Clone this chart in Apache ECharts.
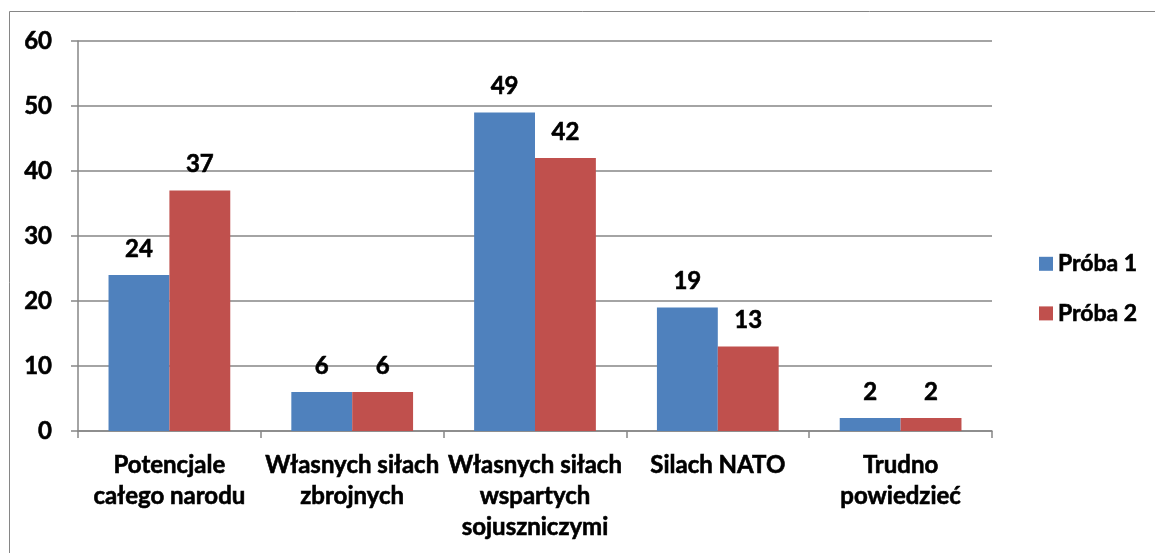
<!DOCTYPE html>
<html>
<head>
<meta charset="utf-8">
<script src="https://cdn.jsdelivr.net/npm/echarts@6/dist/echarts.min.js"></script>
<style>
  html, body { margin: 0; padding: 0; background: #fff; }
  #chart { width: 1155px; height: 553px; }
</style>
</head>
<body>
<div id="chart"></div>
<script>
// dane z wykresu
var categories = ['Potencjale\ncałego narodu', 'Własnych siłach\nzbrojnych', 'Własnych siłach\nwspartych\nsojuszniczymi', 'Silach NATO', 'Trudno\npowiedzieć'];
var proba1 = [24, 6, 49, 19, 2];
var proba2 = [37, 6, 42, 13, 2];
var seriesNames = ['Próba 1', 'Próba 2'];

var FONT = 'Lato';
var gray = '#868686';

// pogrubienie tekstu jak w oryginale
var txt = {
  fontFamily: FONT,
  fontWeight: 'bold',
  color: '#000',
  textBorderColor: '#000',
  textBorderWidth: 0.6
};

var labelStyle = Object.assign({
  show: true,
  position: 'top',
  distance: 14,
  fontSize: 24
}, txt);

var chart = echarts.init(document.getElementById('chart'));
chart.setOption({
  animation: false,
  color: ['#4F81BD', '#C0504D'],
  graphic: [{
    type: 'rect',
    shape: { x: 9.5, y: 11.5, width: 1300, height: 700 },
    style: { fill: 'none', stroke: gray, lineWidth: 1 },
    silent: true
  }],
  grid: { left: 78, right: 163, top: 41, bottom: 122 },
  legend: {
    orient: 'vertical',
    left: 1034,
    top: 247,
    itemWidth: 14,
    itemHeight: 14,
    itemGap: 26,
    icon: 'rect',
    textStyle: Object.assign({ fontSize: 23 }, txt),
    data: seriesNames
  },
  xAxis: {
    type: 'category',
    data: categories,
    axisLine: { lineStyle: { color: gray, width: 1.5 } },
    axisTick: { show: true, length: 7, alignWithLabel: false, lineStyle: { color: gray, width: 1.5 } },
    axisLabel: Object.assign({
      interval: 0,
      margin: 19,
      fontSize: 24,
      lineHeight: 31
    }, txt)
  },
  yAxis: {
    type: 'value',
    min: 0,
    max: 60,
    interval: 10,
    axisLine: { show: true, lineStyle: { color: gray, width: 1.5 } },
    axisTick: { show: true, length: 7, lineStyle: { color: gray, width: 1.5 } },
    splitLine: { lineStyle: { color: gray, width: 1.5 } },
    axisLabel: Object.assign({
      margin: 26,
      fontSize: 24
    }, txt)
  },
  series: [
    { name: seriesNames[0], type: 'bar', data: proba1, barWidth: '33.3%', barGap: '0%', label: labelStyle },
    { name: seriesNames[1], type: 'bar', data: proba2, barWidth: '33.3%', barGap: '0%', label: labelStyle }
  ]
});
</script>
</body>
</html>
